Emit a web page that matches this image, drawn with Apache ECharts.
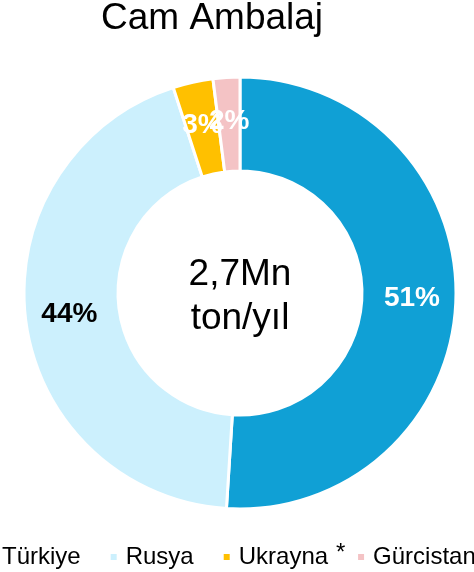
<!DOCTYPE html>
<html>
<head>
<meta charset="utf-8">
<script src="https://cdn.jsdelivr.net/npm/echarts@6/dist/echarts.min.js"></script>
<style>html,body{margin:0;padding:0;background:#fff;}#c{width:474px;height:572px;}</style>
</head>
<body>
<div id="c"></div>
<script>
const categories = ['Türkiye', 'Rusya', 'Ukrayna', 'Gürcistan'];
const shares = [51, 44, 3, 2];
const colors = ['#10A0D5', '#CCF0FD', '#FFC000', '#F4C3C5'];
const labelColors = ['#fff', '#000', '#fff', '#fff'];
const titleText = 'Cam Ambalaj';
const centerText = '2,7Mn\nton/yıl';

const FONT = '"Liberation Sans", Arial, sans-serif';
const chart = echarts.init(document.getElementById('c'));
chart.setOption({
  animation: false,
  title: {
    text: titleText, left: 101, top: 0, padding: 0,
    textStyle: { fontFamily: FONT, fontSize: 37, fontWeight: 'normal', color: '#000' }
  },
  legend: {
    data: categories, left: -15, top: 545, padding: 0, width: 800,
    icon: 'rect', itemWidth: 8, itemHeight: 8, itemGap: 28,
    textStyle: { fontFamily: FONT, fontSize: 24, color: '#000', padding: [0, 0, 0, 3] }
  },
  graphic: [
    { type: 'text', x: 240, y: 297, style: { text: centerText, fontFamily: FONT, fontSize: 37, lineHeight: 44, fill: '#000', align: 'center', verticalAlign: 'middle' } },
    { type: 'text', x: 336, y: 541, style: { text: '*', fontFamily: FONT, fontSize: 24, fill: '#000' } }
  ],
  series: [{
    type: 'pie',
    center: [240, 293],
    radius: [122, 216],
    startAngle: 90,
    clockwise: true,
    percentPrecision: 0,
    avoidLabelOverlap: false,
    labelLayout: { hideOverlap: false },
    emphasis: { disabled: true },
    itemStyle: { borderColor: '#fff', borderWidth: 3 },
    label: { show: true, position: 'inside', formatter: '{d}%', fontFamily: FONT, fontSize: 28, fontWeight: 'bold' },
    labelLine: { show: false },
    data: categories.map((n, i) => ({
      name: n, value: shares[i],
      itemStyle: { color: colors[i] },
      label: { color: labelColors[i] }
    }))
  }]
});
</script>
</body>
</html>
